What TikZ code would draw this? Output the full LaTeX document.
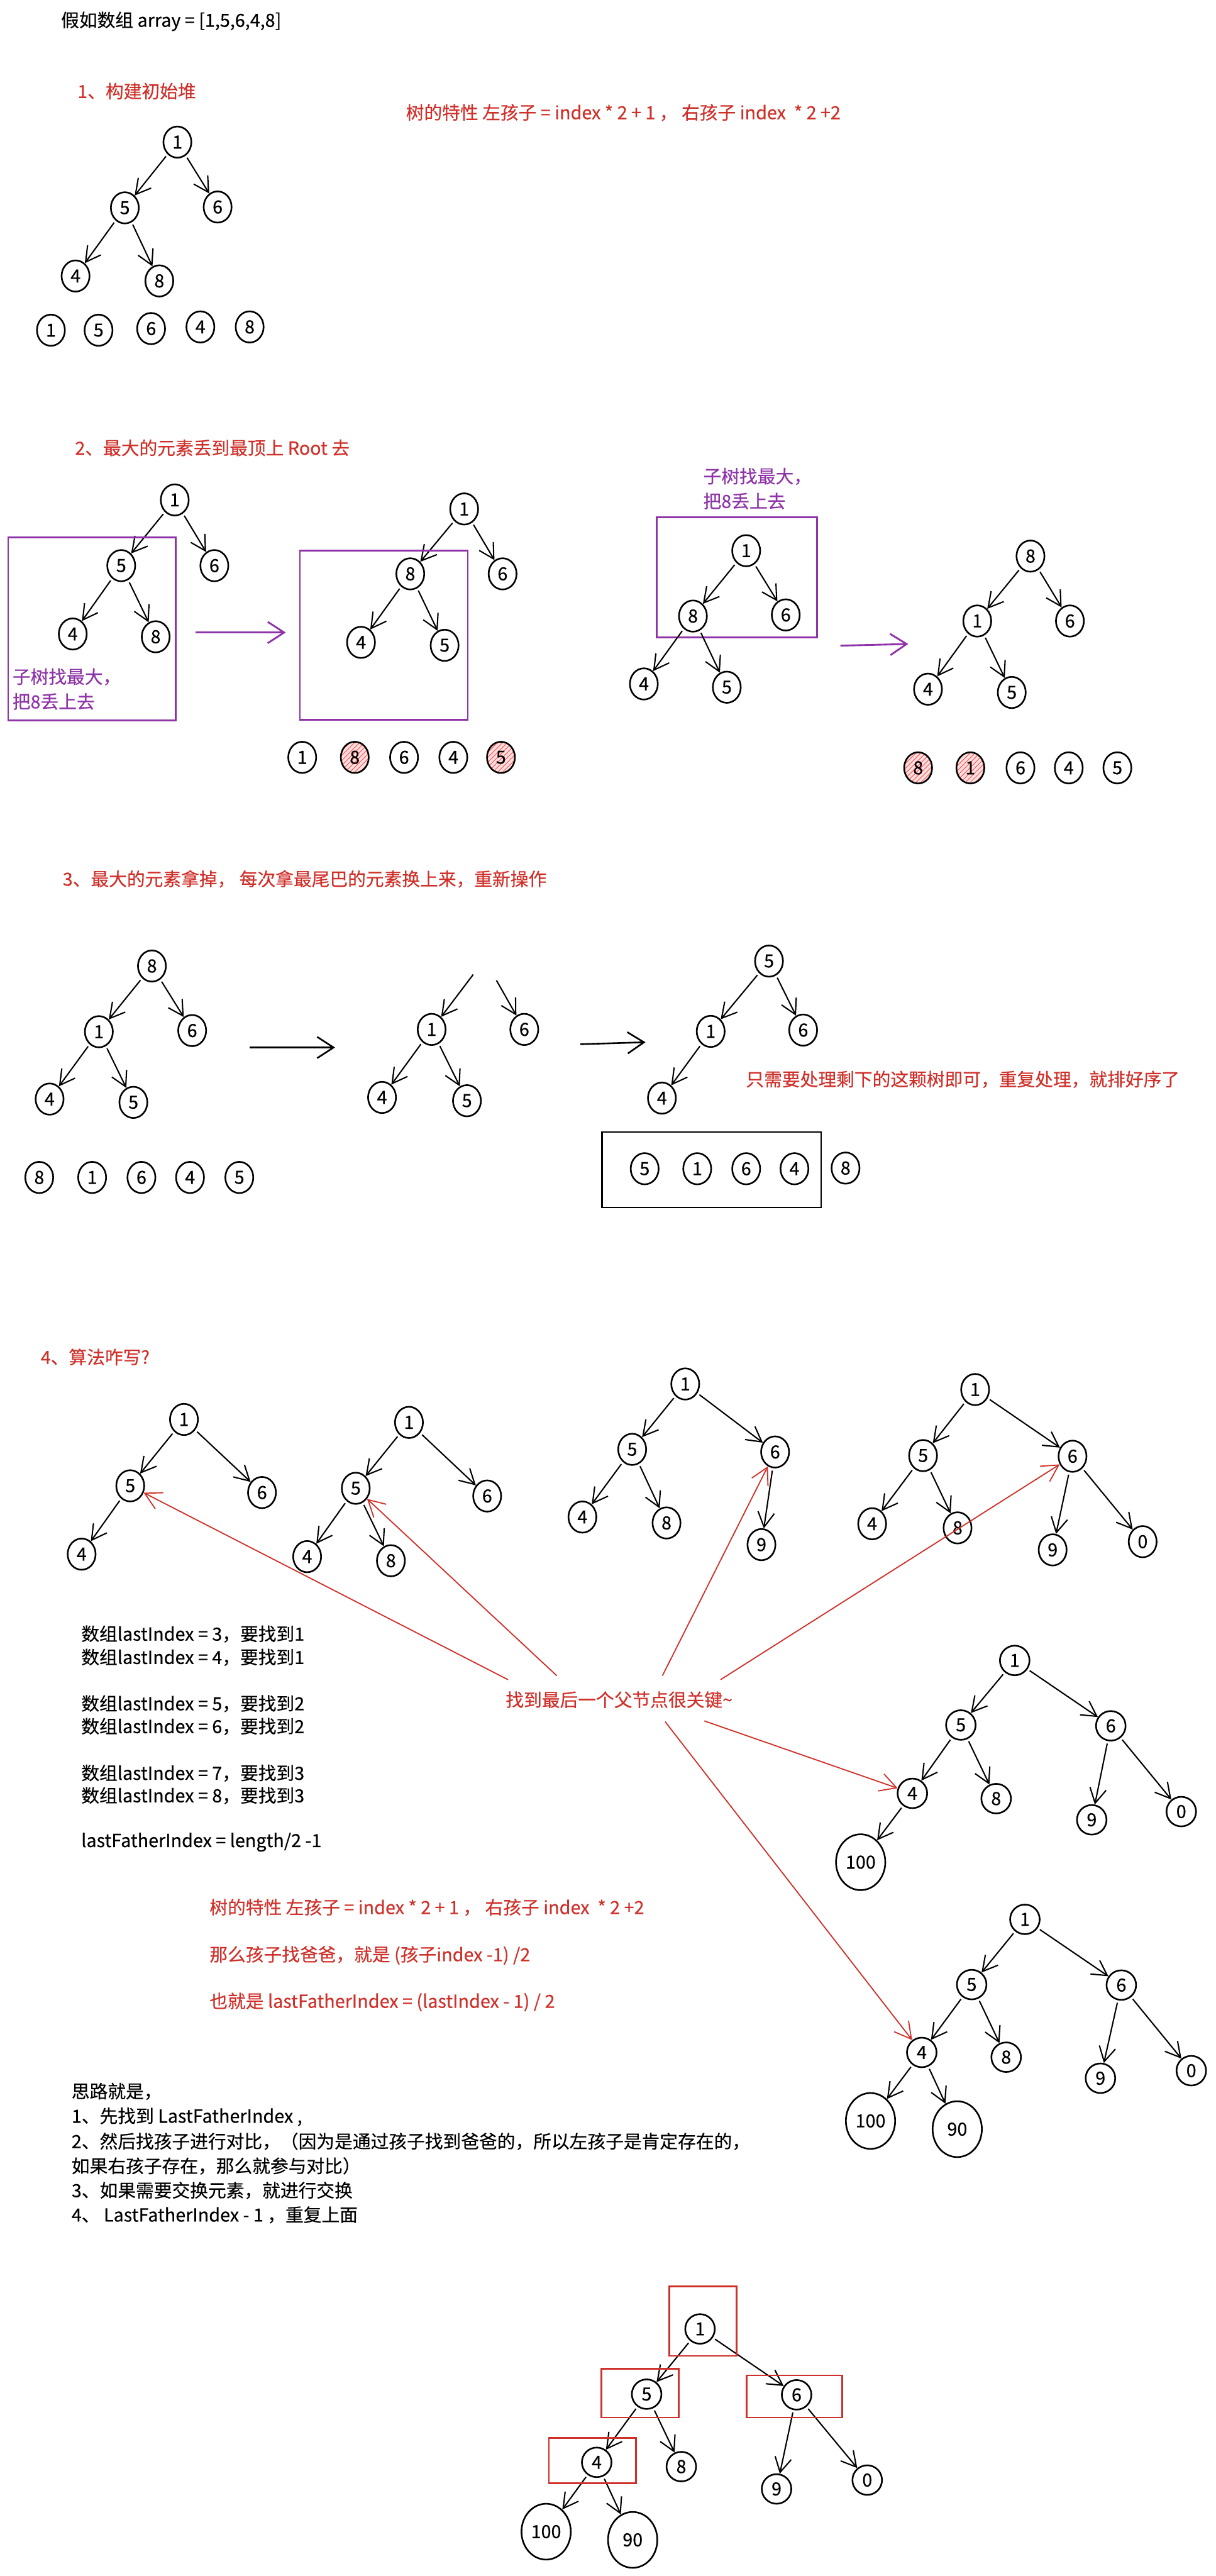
\documentclass[tikz,border=0pt]{standalone}
\usepackage{fontspec}
\setmainfont{Noto Sans CJK SC}[FakeBold=0.35]
\usetikzlibrary{arrows.meta,shapes.geometric,patterns}
\definecolor{myred}{RGB}{208,48,42}
\definecolor{mypurple}{RGB}{142,52,168}
\newcommand\myfs{\fontsize{11}{13}\selectfont}
\begin{document}
\begin{tikzpicture}[x=1pt,y=-1pt,
  nd/.style={draw, ellipse, line width=1pt, minimum width=17pt, minimum height=19pt, inner sep=0pt, font=\myfs},
  rn/.style={nd, minimum width=18pt, minimum height=18pt},
  bg/.style={nd, minimum width=30pt, minimum height=34pt},
  ht/.style={nd, preaction={fill=red!12}, pattern=north east lines, pattern color=red!65},
  ar/.style={line width=0.8pt, -{Straight Barb[length=9pt,width=10pt]}, shorten <=1.5pt},
  rar/.style={draw=myred, line width=0.7pt, -{Straight Barb[length=10pt,width=11pt]}},
  par/.style={draw=mypurple, line width=1.1pt, -{Straight Barb[length=10pt,width=13pt]}},
  bar/.style={line width=1pt, -{Straight Barb[length=10pt,width=13pt]}},
  pbox/.style={draw=mypurple, line width=1.1pt},
  rbox/.style={draw=myred, line width=1pt},
  kbox/.style={draw=black, line width=1pt},
  tx/.style={anchor=west, inner sep=0pt, font=\myfs},
  rtx/.style={tx, text=myred},
  ptx/.style={tx, text=mypurple},
]
\fill[white] (0,0) rectangle (740,1568);
\useasboundingbox (0,0) rectangle (740,1568);

% ---------------- Section 1
\node[tx] (title) at (37,13) {假如数组 array = [1,5,6,4,8]};
\node[rtx] (h1) at (47,55.5) {1、构建初始堆};
\node[rtx] (prop1) at (247,68.5) {树的特性 左孩子 = index * 2 + 1 ， 右孩子 index \ * 2 +2};
\node[nd] (a1) at (108,86.5) {1};
\node[nd] (a5) at (76,126.5) {5};
\node[nd] (a6) at (132.5,126) {6};
\node[nd] (a4) at (46,168) {4};
\node[nd] (a8) at (97,171) {8};
\foreach \p/\c in {a1/a5,a1/a6,a5/a4,a5/a8} \draw[ar] (\p) -- (\c);
\node[nd] (aa1) at (31,201) {1};
\node[nd] (aa2) at (60,201) {5};
\node[nd] (aa3) at (92,200) {6};
\node[nd] (aa4) at (122,199) {4};
\node[nd] (aa5) at (152,199) {8};

% ---------------- Section 2
\node[rtx] (h2) at (45.5,272.6) {2、最大的元素丢到最顶上 Root 去};
\node[nd] (b1) at (106.4,304.3) {1};
\node[nd] (b5) at (73.8,344.3) {5};
\node[nd] (b6) at (130.5,344.3) {6};
\node[nd] (b4) at (44.3,385.9) {4};
\node[nd] (b8) at (94.8,387.6) {8};
\foreach \p/\c in {b1/b5,b1/b6,b5/b4,b5/b8} \draw[ar] (\p) -- (\c);
\draw[pbox] (5,327) rectangle (107,438.6);
\node[ptx] (pt1) at (7.4,412) {子树找最大，};
\node[ptx] (pt2) at (7.4,427) {把8丢上去};
\coordinate (pa1s) at (119,385);
\coordinate (pa1e) at (174,385);
\draw[par] (pa1s) -- (pa1e);

\node[nd] (c1) at (282.6,309.8) {1};
\node[nd] (c8) at (249.8,349.3) {8};
\node[nd] (c6) at (306,349.3) {6};
\node[nd] (c4) at (219.8,391) {4};
\node[nd] (c5) at (270.7,392.8) {5};
\foreach \p/\c in {c1/c8,c1/c6,c8/c4,c8/c5} \draw[ar] (\p) -- (\c);
\draw[pbox] (182.6,335) rectangle (284.8,438);
\node[nd] (ca1) at (184,461) {1};
\node[ht] (ca2) at (216,461) {8};
\node[nd] (ca3) at (246,461) {6};
\node[nd] (ca4) at (276,461) {4};
\node[ht] (ca5) at (305,461) {5};

\node[ptx] (pt3) at (428,290) {子树找最大，};
\node[ptx] (pt4) at (428,305) {把8丢上去};
\draw[pbox] (399.7,315) rectangle (497.6,388);
\node[nd] (d1) at (454.3,335.2) {1};
\node[nd] (d8) at (421.9,375) {8};
\node[nd] (d6) at (478.4,374.3) {6};
\node[nd] (d4) at (392,416.3) {4};
\node[nd] (d5) at (442.5,418.3) {5};
\foreach \p/\c in {d1/d8,d1/d6,d8/d4,d8/d5} \draw[ar] (\p) -- (\c);
\coordinate (pa2s) at (511.7,393);
\coordinate (pa2e) at (553,392);
\draw[par] (pa2s) -- (pa2e);

\node[nd] (e8) at (627.4,338.5) {8};
\node[nd] (e1) at (595,378) {1};
\node[nd] (e6) at (651.4,378) {6};
\node[nd] (e4) at (565,419.5) {4};
\node[nd] (e5) at (616,421.5) {5};
\foreach \p/\c in {e8/e1,e8/e6,e1/e4,e1/e5} \draw[ar] (\p) -- (\c);
\node[ht] (ea1) at (559,467.4) {8};
\node[ht] (ea2) at (590.8,467.4) {1};
\node[nd] (ea3) at (621.3,467.4) {6};
\node[nd] (ea4) at (650.7,467.4) {4};
\node[nd] (ea5) at (680.3,467.4) {5};

% ---------------- Section 3
\node[rtx] (h3) at (38,535) {3、最大的元素拿掉， 每次拿最尾巴的元素换上来，重新操作};
\node[nd] (f8) at (92.5,588) {8};
\node[nd] (f1) at (60.2,628) {1};
\node[nd] (f6) at (117,627.3) {6};
\node[nd] (f4) at (30.2,669) {4};
\node[nd] (f5) at (81.2,671) {5};
\foreach \p/\c in {f8/f1,f8/f6,f1/f4,f1/f5} \draw[ar] (\p) -- (\c);
\node[nd] (fa1) at (23.9,716.7) {8};
\node[nd] (fa2) at (56.1,716.7) {1};
\node[nd] (fa3) at (86.1,716.7) {6};
\node[nd] (fa4) at (115.7,716.7) {4};
\node[nd] (fa5) at (145.7,716.7) {5};
\coordinate (k1s) at (152,637.6);
\coordinate (k1e) at (204,637.6);
\draw[bar] (k1s) -- (k1e);

\coordinate (gL) at (289,592);
\coordinate (gR) at (301.5,595.4);
\node[nd] (g1) at (262.8,626.6) {1};
\node[nd] (g6) at (319.2,626.6) {6};
\node[nd] (g4) at (232.6,668) {4};
\node[nd] (g5) at (284.3,670) {5};
\draw[ar] (gL) -- (g1);
\draw[ar] (gR) -- (g6);
\foreach \p/\c in {g1/g4,g1/g5} \draw[ar] (\p) -- (\c);
\coordinate (k2s) at (353.4,635.6);
\coordinate (k2e) at (393,634.4);
\draw[bar] (k2s) -- (k2e);

\node[nd] (h5) at (468.2,585) {5};
\node[nd] (hh1) at (432.7,627.8) {1};
\node[nd] (h6) at (489,627) {6};
\node[nd] (hh4) at (403,668.4) {4};
\foreach \p/\c in {h5/hh1,h5/h6,hh1/hh4} \draw[ar] (\p) -- (\c);
\node[rtx] (note3) at (454,657) {只需要处理剩下的这颗树即可，重复处理，就排好序了};
\draw[kbox] (366.5,689) rectangle (500,735);
\node[nd] (ha1) at (392.5,711.4) {5};
\node[nd] (ha2) at (424.5,711.4) {1};
\node[nd] (ha3) at (454.3,711.4) {6};
\node[nd] (ha4) at (483.7,711.4) {4};
\node[nd] (ha5) at (514.8,711) {8};

% ---------------- Section 4
\node[rtx] (h4) at (24.6,826) {4、算法咋写?};
\node[nd] (i1) at (112,864) {1};
\node[nd] (i5) at (79.3,904.4) {5};
\node[nd] (i6) at (159.5,908.5) {6};
\node[nd] (i4) at (49.7,946) {4};
\foreach \p/\c in {i1/i5,i1/i6,i5/i4} \draw[ar] (\p) -- (\c);

\node[nd] (j1) at (249,865.8) {1};
\node[nd] (j5) at (216.6,905.9) {5};
\node[nd] (j6) at (296.6,910.6) {6};
\node[nd] (j4) at (187,947.5) {4};
\node[nd] (j8) at (238,950) {8};
\foreach \p/\c in {j1/j5,j1/j6,j5/j4,j5/j8} \draw[ar] (\p) -- (\c);

\node[nd] (k1) at (417.2,842.4) {1};
\node[nd] (k5) at (384.9,882.2) {5};
\node[nd] (k6) at (471.9,883.8) {6};
\node[nd] (k4) at (354.6,923.4) {4};
\node[nd] (k8) at (405.8,927) {8};
\node[nd] (k9) at (463.6,940.2) {9};
\foreach \p/\c in {k1/k5,k1/k6,k5/k4,k5/k8,k6/k9} \draw[ar] (\p) -- (\c);

\node[nd] (l1) at (593.7,845.8) {1};
\node[nd] (l5) at (562,886) {5};
\node[nd] (l6) at (653,886.4) {6};
\node[nd] (l4) at (531,927.5) {4};
\node[nd] (l8) at (583,930) {8};
\node[nd] (l9) at (640.9,943.4) {9};
\node[nd] (l0) at (695.7,938.4) {0};
\foreach \p/\c in {l1/l5,l1/l6,l5/l4,l5/l8,l6/l9,l6/l0} \draw[ar] (\p) -- (\c);

\node[tx] (q1) at (49.3,994.6) {数组lastIndex = 3，要找到1};
\node[tx] (q2) at (49.3,1008.8) {数组lastIndex = 4，要找到1};
\node[tx] (q3) at (49.3,1037) {数组lastIndex = 5，要找到2};
\node[tx] (q4) at (49.3,1050.9) {数组lastIndex = 6，要找到2};
\node[tx] (q5) at (49.3,1079.3) {数组lastIndex = 7，要找到3};
\node[tx] (q6) at (49.3,1093) {数组lastIndex = 8，要找到3};
\node[tx] (q7) at (49.3,1121.3) {lastFatherIndex = length/2 -1};

\node[rtx] (key) at (307.7,1034.6) {找到最后一个父节点很关键\textasciitilde};

% Tree L
\node[rn] (m1) at (617.8,1010.7) {1};
\node[rn] (m5) at (585,1050) {5};
\node[rn] (m6) at (676.3,1050.5) {6};
\node[rn] (m4) at (555.5,1091.6) {4};
\node[rn] (m8) at (606.5,1094.8) {8};
\node[rn] (m9) at (664.7,1107.7) {9};
\node[rn] (m0) at (719.2,1102.7) {0};
\node[bg] (m100) at (524,1133.5) {100};
\foreach \p/\c in {m1/m5,m1/m6,m5/m4,m5/m8,m6/m9,m6/m0,m4/m100} \draw[ar] (\p) -- (\c);

% Tree M
\node[rn] (n1) at (624,1168.3) {1};
\node[rn] (n5) at (591.6,1208) {5};
\node[rn] (n6) at (682.7,1208.3) {6};
\node[rn] (n4) at (561.2,1249.3) {4};
\node[rn] (n8) at (612.6,1252.2) {8};
\node[rn] (n9) at (670,1265) {9};
\node[rn] (n0) at (725.3,1260.4) {0};
\node[bg] (n100) at (530,1291) {100};
\node[bg] (n90) at (582.8,1296) {90};
\foreach \p/\c in {n1/n5,n1/n6,n5/n4,n5/n8,n6/n9,n6/n0,n4/n100,n4/n90} \draw[ar] (\p) -- (\c);

% red pointer lines
\coordinate (s1) at (309.3,1022.4);
\coordinate (s2) at (339,1020);
\coordinate (s3) at (403.3,1020);
\coordinate (s4) at (438.7,1022.4);
\coordinate (s5) at (428.8,1047.5);
\coordinate (s6) at (405,1048);
\draw[rar] (s1) -- (i5);
\draw[rar] (s2) -- (j5);
\draw[rar] (s3) -- (k6);
\draw[rar] (s4) -- (l6);
\draw[rar] (s5) -- (m4);
\draw[rar] (s6) -- (n4);

\node[rtx] (r1) at (127.4,1161) {树的特性 左孩子 = index * 2 + 1 ， 右孩子 index \ * 2 +2};
\node[rtx] (r2) at (127.4,1190.2) {那么孩子找爸爸，就是 (孩子index -1) /2};
\node[rtx] (r3) at (127.4,1218.6) {也就是 lastFatherIndex = (lastIndex - 1) / 2};

\node[tx] (w1) at (43.4,1273) {思路就是，};
\node[tx] (w2) at (43.4,1288.5) {1、先找到 LastFatherIndex ,};
\node[tx] (w3) at (43.4,1303.4) {2、然后找孩子进行对比，（因为是通过孩子找到爸爸的，所以左孩子是肯定存在的，};
\node[tx] (w4) at (43.4,1318.4) {如果右孩子存在，那么就参与对比）};
\node[tx] (w5) at (43.4,1333.3) {3、如果需要交换元素，就进行交换};
\node[tx] (w6) at (43.4,1348.2) {4、 LastFatherIndex - 1 ，重复上面};

% Tree N
\node[rn] (o1) at (426.2,1417.6) {1};
\node[rn] (o5) at (393.7,1457.3) {5};
\node[rn] (o6) at (485,1457.7) {6};
\node[rn] (o4) at (363.3,1498.8) {4};
\node[rn] (o8) at (414.8,1501.4) {8};
\node[rn] (o9) at (472.8,1515) {9};
\node[rn] (o0) at (528,1509.6) {0};
\node[bg] (o100) at (332.5,1541) {100};
\node[bg] (o90) at (385.2,1546) {90};
\foreach \p/\c in {o1/o5,o1/o6,o5/o4,o5/o8,o6/o9,o6/o0,o4/o100,o4/o90} \draw[ar] (\p) -- (\c);
\draw[rbox] (407.6,1391.7) rectangle (448.5,1434);
\draw[rbox] (366.2,1441.9) rectangle (413.3,1471.5);
\draw[rbox] (454.7,1445.8) rectangle (512.7,1471.5);
\draw[rbox] (334.2,1483.9) rectangle (387.3,1511.6);
\end{tikzpicture}
\end{document}
